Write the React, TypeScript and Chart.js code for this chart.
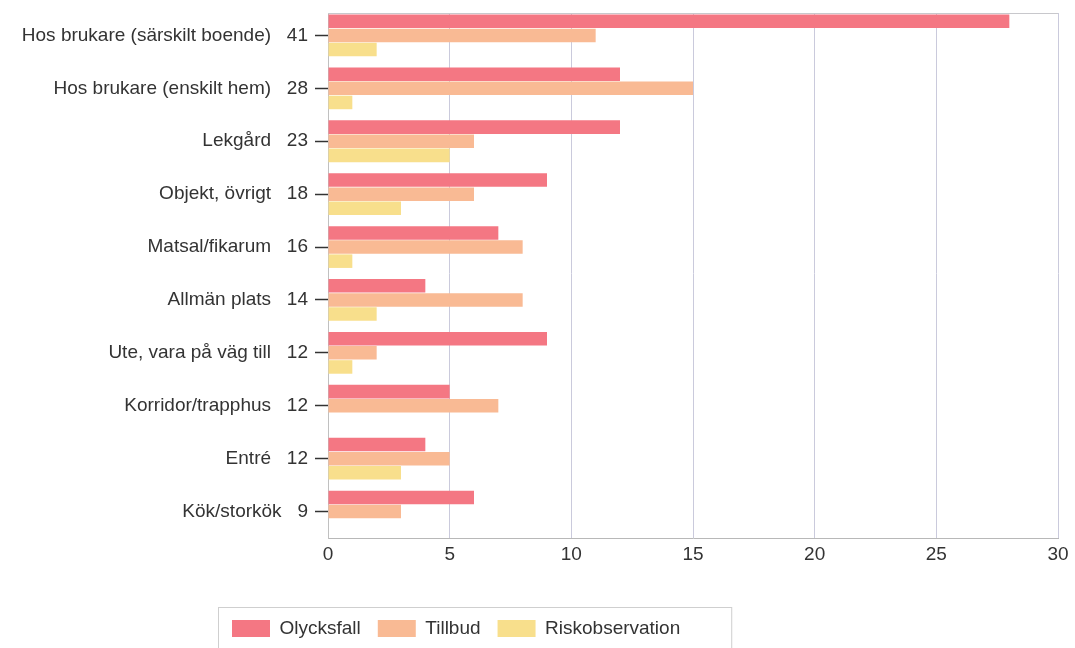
import React, { useEffect, useRef } from "react";
import { Chart, registerables } from "chart.js";

Chart.register(...registerables);

const categories = [
  "Hos brukare (särskilt boende)",
  "Hos brukare (enskilt hem)",
  "Lekgård",
  "Objekt, övrigt",
  "Matsal/fikarum",
  "Allmän plats",
  "Ute, vara på väg till",
  "Korridor/trapphus",
  "Entré",
  "Kök/storkök",
];
const totals = [41, 28, 23, 18, 16, 14, 12, 12, 12, 9];
const olycksfall = [28, 12, 12, 9, 7, 4, 9, 5, 4, 6];
const tillbud = [11, 15, 6, 6, 8, 8, 2, 7, 5, 3];
const riskobservation = [2, 1, 5, 3, 1, 2, 1, 0, 3, 0];
const xTicks = [0, 5, 10, 15, 20, 25, 30];

const FONT = "'Liberation Sans', Arial, sans-serif";

export default function App() {
  const ref = useRef<HTMLCanvasElement | null>(null);

  useEffect(() => {
    if (!ref.current) return;
    const labels = categories.map((c, i) => `${c}   ${totals[i]}`);

    const framePlugin = {
      id: "framePlugin",
      afterLayout(chart: any) {
        const lg = chart.legend;
        if (lg) {
          const w = lg.right - lg.left;
          lg.left = 215;
          lg.right = 215 + w;
        }
      },
      beforeDatasetsDraw(chart: any) {
        const { ctx, chartArea } = chart;
        ctx.save();
        ctx.fillStyle = "#fff";
        ctx.fillRect(chartArea.left - 2, chartArea.top - 2, chartArea.right - chartArea.left + 4, 6);
        ctx.strokeStyle = "#c8c8cc";
        ctx.lineWidth = 1;
        ctx.beginPath();
        ctx.moveTo(chartArea.left, chartArea.top + 4.5);
        ctx.lineTo(chartArea.right, chartArea.top + 4.5);
        ctx.stroke();
        ctx.restore();
      },
      afterDraw(chart: any) {
        const { ctx } = chart;
        const lg = chart.legend;
        if (lg && lg.lineWidths) {
          ctx.save();
          const start = lg.left + 17;
          const x0 = start - 14;
          const x1 = start + lg.lineWidths[0] + 34;
          ctx.strokeStyle = "#cfcfcf";
          ctx.lineWidth = 1;
          ctx.strokeRect(x0 + 0.5, lg.top + 5.5, x1 - x0, 80);
          ctx.restore();
        }
      },
    };

    const chart = new Chart(ref.current, {
      type: "bar",
      data: {
        labels,
        datasets: [
          {
            label: "Olycksfall",
            data: olycksfall,
            backgroundColor: "#f47783",
            borderWidth: 0,
            categoryPercentage: 0.8,
            barPercentage: 0.96,
          },
          {
            label: "Tillbud",
            data: tillbud,
            backgroundColor: "#f9ba94",
            borderWidth: 0,
            categoryPercentage: 0.8,
            barPercentage: 0.96,
          },
          {
            label: "Riskobservation",
            data: riskobservation,
            backgroundColor: "#f8df8c",
            borderWidth: 0,
            categoryPercentage: 0.8,
            barPercentage: 0.96,
          },
        ],
      },
      options: {
        indexAxis: "y",
        responsive: false,
        animation: false,
        layout: { padding: { left: 0, right: 17, top: 9, bottom: 0 } },
        scales: {
          x: {
            min: 0,
            max: 30,
            afterBuildTicks(scale: any) {
              scale.ticks = xTicks.map((v) => ({ value: v }));
            },
            afterFit(scale: any) {
              scale.height = 64;
            },
            grid: {
              display: true,
              drawOnChartArea: true,
              drawTicks: false,
              color: "#cacadc",
              lineWidth: 1,
            },
            border: { display: true, color: "#b8b8b8" },
            ticks: {
              padding: 5,
              color: "#333",
              font: { family: FONT, size: 19 },
            },
          },
          y: {
            afterFit(scale: any) {
              scale.width = 328;
              scale.paddingTop = 0;
              scale.paddingBottom = 0;
            },
            grid: {
              display: true,
              offset: false,
              drawOnChartArea: false,
              drawTicks: true,
              tickLength: 13,
              tickColor: "#333",
              tickWidth: 1.5,
            },
            border: { display: true, color: "#c0c0c0" },
            ticks: {
              padding: 7,
              color: "#333",
              autoSkip: false,
              font: { family: FONT, size: 19 },
            },
          },
        },
        plugins: {
          legend: {
            position: "bottom",
            align: "start",
            labels: {
              boxWidth: 38,
              boxHeight: 17,
              padding: 17,
              color: "#333",
              font: { family: FONT, size: 19 },
            },
          },
          tooltip: { enabled: false },
        },
      },
      plugins: [framePlugin],
    } as any);

    return () => chart.destroy();
  }, []);

  return (
    <div style={{ position: "fixed", left: 0, top: 0, width: 1075, height: 648, background: "#fff" }}>
      <canvas ref={ref} width={1075} height={648} style={{ display: "block" }} />
    </div>
  );
}
